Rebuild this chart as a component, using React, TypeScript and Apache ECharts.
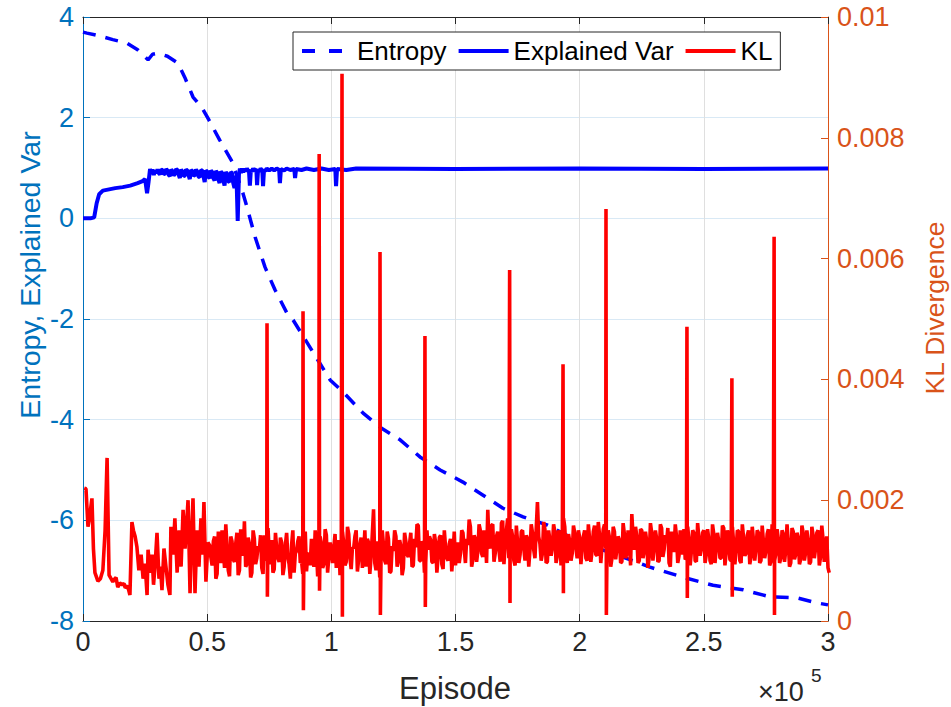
import React, { useEffect, useRef } from 'react';
import * as echarts from 'echarts';

const X_MIN = 0;
const X_MAX = 300000;
const X_INTERVAL = 50000;

// Entropy (left axis) [episode, value]
const ENTROPY: [number, number][] = [
  [0, 3.7], [1600, 3.68], [7000, 3.62], [12000, 3.55], [17700, 3.48], [22000, 3.35],
  [26200, 3.15], [28000, 3.26], [30000, 3.28], [34000, 3.22], [38300, 3.08], [41000, 2.8],
  [44300, 2.41], [48000, 2.19], [50300, 1.99], [55000, 1.56], [60000, 1.13], [64400, 0.5],
  [66000, 0.23], [69300, -0.37], [73300, -0.97], [77300, -1.42], [82100, -1.88], [84600, -2.02],
  [90000, -2.45], [95000, -2.85], [99500, -3.21], [104700, -3.45], [112800, -3.87], [119600, -4.15],
  [127700, -4.4], [135700, -4.74], [143800, -5.0], [153000, -5.24], [161100, -5.5], [169100, -5.76],
  [177200, -5.93], [186800, -6.09], [196100, -6.33], [207000, -6.55], [217400, -6.73], [228300, -6.93],
  [241600, -7.13], [253700, -7.29], [265800, -7.38], [276600, -7.52], [287500, -7.54], [295500, -7.64],
  [300000, -7.68],
];

// Explained variance (left axis) [episode, value]
const EXPLAINED_VAR: [number, number][] = [
  [0, 0], [1000, 0], [3000, 0], [4500, 0.02], [5500, 0.3], [6500, 0.48], [8000, 0.55], [10000, 0.57],
  [13000, 0.6], [16000, 0.62], [19000, 0.65], [22000, 0.7], [24000, 0.74], [25000, 0.78], [25800, 0.5],
  [26400, 0.72], [27000, 0.98], [27500, 0.88], [28000, 0.97], [28500, 0.86], [29000, 0.95], [29500, 0.9],
  [30000, 0.97], [30500, 0.9], [31000, 0.87], [31500, 0.97], [32000, 0.96], [32500, 0.88], [33000, 0.89],
  [33500, 0.98], [34000, 0.95], [34500, 0.86], [35000, 0.84], [35500, 0.97], [36000, 0.94], [36500, 0.85],
  [37000, 0.88], [37500, 0.98], [38000, 0.96], [38500, 0.87], [39000, 0.8], [39500, 0.97], [40000, 0.93],
  [40500, 0.84], [41000, 0.85], [41500, 0.97], [42000, 0.95], [42500, 0.86], [43000, 0.78], [43500, 0.96],
  [44000, 0.94], [44500, 0.84], [45000, 0.86], [45500, 0.97], [46000, 0.93], [46500, 0.83], [47000, 0.82],
  [47500, 0.96], [48000, 0.95], [48500, 0.84], [49000, 0.72], [49500, 0.95], [50000, 0.93], [50500, 0.82],
  [51000, 0.8], [51500, 0.95], [52000, 0.92], [52500, 0.8], [53000, 0.75], [53500, 0.94], [54000, 0.91],
  [54500, 0.78], [55000, 0.7], [55500, 0.93], [56000, 0.9], [56500, 0.76], [57000, 0.65], [57500, 0.92],
  [58000, 0.88], [58500, 0.74], [59000, 0.72], [59500, 0.92], [60000, 0.9], [60500, 0.7], [61000, 0.6],
  [61800, 0.85], [62300, -0.05], [62800, 0.88], [63200, 0.99], [63600, 0.9], [64000, 0.99], [64500, 0.91],
  [65000, 0.99], [65500, 0.93], [66000, 0.99], [66500, 0.94], [66800, 0.97], [67200, 0.65], [67600, 0.97],
  [68000, 0.93], [68500, 0.99], [69000, 0.94], [69800, 0.98], [70100, 0.66], [70500, 0.97], [71000, 0.93],
  [71500, 0.99], [72200, 0.95], [72500, 0.64], [72900, 0.97], [73500, 0.94], [74000, 0.99], [75000, 0.95],
  [76000, 0.99], [77000, 0.95], [78000, 0.99], [79000, 0.96], [79300, 0.7], [79700, 0.98], [81000, 0.95],
  [82000, 0.99], [83500, 0.96], [85100, 0.98], [85400, 0.8], [85800, 0.98], [88000, 0.96], [90000, 0.99],
  [93000, 0.96], [96000, 0.99], [99000, 0.96], [101600, 0.98], [101900, 0.64], [102300, 0.98],
  [106000, 0.96], [110000, 0.99], [150000, 0.98], [200000, 0.99], [250000, 0.98], [300000, 0.99],
];

// KL divergence (right axis): early part [episode, value]
const KL_EARLY: [number, number][] = [
  [500, 0.0022], [1200, 0.00219], [2000, 0.00156], [2600, 0.0017], [3600, 0.00203], [4200, 0.0012],
  [4800, 0.0008], [6000, 0.00066], [7000, 0.0007], [8000, 0.00084], [8900, 0.0015], [9700, 0.0027],
  [10500, 0.00076], [11300, 0.0007], [12000, 0.00065], [12800, 0.0007], [13300, 0.00072], [14000, 0.00056],
  [14800, 0.00063], [15700, 0.0006], [16500, 0.00062], [17000, 0.00055], [18000, 0.00058], [18900, 0.00043],
  [19700, 0.00164], [20300, 0.0015], [21000, 0.0014], [21700, 0.00123], [22500, 0.00084], [23400, 0.0011],
  [24200, 0.0007], [25000, 0.00095], [25800, 0.00043], [26200, 0.00118], [27000, 0.0008], [27800, 0.0011],
  [28400, 0.0006], [29000, 0.0009], [29800, 0.00146], [30600, 0.0007], [31200, 0.0009], [31800, 0.00051],
  [32600, 0.0012], [33400, 0.0009], [34200, 0.0006], [35000, 0.00043], [35400, 0.00156], [36200, 0.0011],
  [37000, 0.0017], [37900, 0.0008], [38700, 0.0015], [39500, 0.0009], [40300, 0.00184], [41100, 0.0012],
  [41700, 0.0016], [42300, 0.002], [43100, 0.00046], [43700, 0.0014], [44300, 0.00203], [45100, 0.00046],
  [45900, 0.0015], [46700, 0.0009], [47500, 0.0017], [48100, 0.0011], [48700, 0.00197], [49500, 0.00065],
  [50300, 0.0013],
];

// KL divergence noise band: readings at 51000, 52000, ... (every 1000 episodes)
const KL_BAND_START = 51000;
const KL_BAND_STEP = 1000;
const KL_BAND: number[] = [
  0.00125, 0.00092, 0.0014, 0.00078, 0.00118, 0.0015, 0.00088, 0.00122, 0.00074, 0.00132,
  0.00098, 0.00146, 0.00084, 0.0012, 0.00165, 0.00094, 0.00128, 0.0008, 0.00136, 0.00104,
  0.00116, 0.00088, 0.00142, 0.001, 0.00112, 0.00134, 0.00086, 0.0012, 0.00098, 0.0013,
  0.0009, 0.00146, 0.00094, 0.00126, 0.0008, 0.00116, 0.0014, 0.001, 0.00124, 0.00082,
  0.00112, 0.00136, 0.0009, 0.0012, 0.00104, 0.00128, 0.00094, 0.00142, 0.00106, 0.00118,
  0.00122, 0.00088, 0.00134, 0.001, 0.00128, 0.00098, 0.00144, 0.00086, 0.0012, 0.0015,
  0.00102, 0.00138, 0.0011, 0.0009, 0.0013, 0.00106, 0.00185, 0.00084, 0.0012, 0.00098,
  0.00126, 0.00094, 0.00136, 0.00082, 0.00116, 0.0014, 0.001, 0.00124, 0.00088, 0.00132,
  0.00106, 0.00146, 0.00092, 0.00122, 0.00158, 0.001, 0.00128, 0.00096, 0.00118, 0.00134,
  0.00096, 0.0013, 0.00106, 0.00142, 0.00086, 0.00122, 0.001, 0.00136, 0.0011, 0.00092,
  0.0013, 0.00112, 0.00146, 0.00096, 0.00126, 0.00156, 0.00102, 0.00136, 0.00116, 0.0015,
  0.00106, 0.00142, 0.00184, 0.0012, 0.0016, 0.00112, 0.00148, 0.00098, 0.00166, 0.00124,
  0.0017, 0.00118, 0.0014, 0.00092, 0.0013, 0.0011, 0.0015, 0.001, 0.00136, 0.00118,
  0.00146, 0.00104, 0.00197, 0.00128, 0.00112, 0.00152, 0.00098, 0.00134, 0.00122, 0.00148,
  0.00108, 0.0014, 0.00118, 0.00156, 0.00096, 0.00132, 0.00112, 0.00146, 0.00104, 0.00138,
  0.0012, 0.0015, 0.001, 0.00136, 0.00116, 0.00158, 0.00108, 0.00142, 0.00124, 0.0016,
  0.00114, 0.00138, 0.00104, 0.00148, 0.0012, 0.00134, 0.00098, 0.00144, 0.00112, 0.0013,
  0.00177, 0.00118, 0.0014, 0.001, 0.0015, 0.00116, 0.00132, 0.00106, 0.00146, 0.00122,
  0.00136, 0.001, 0.00154, 0.00118, 0.0013, 0.00096, 0.00148, 0.00114, 0.0014, 0.00108,
  0.00128, 0.00152, 0.00104, 0.00134, 0.00116, 0.00146, 0.00098, 0.00138, 0.0012, 0.0015,
  0.0011, 0.00136, 0.00094, 0.00144, 0.00122, 0.00132, 0.00104, 0.00154, 0.00114, 0.0014,
  0.001, 0.0013, 0.00118, 0.00148, 0.00096, 0.00138, 0.00112, 0.0015, 0.00106, 0.00134,
  0.0012, 0.00146, 0.001, 0.00132, 0.00116, 0.00152, 0.00098, 0.0014, 0.00112, 0.00136,
  0.00104, 0.00144, 0.00118, 0.0013, 0.00096, 0.00148, 0.0011, 0.00138, 0.00102, 0.00146,
  0.00114, 0.00132, 0.00098, 0.00142, 0.0012, 0.0015, 0.00106, 0.00136, 0.00124, 0.00088,
];

// KL divergence noise band: readings in between, at 51500, 52500, ...
const KL_BAND_MID_START = 51500;
const KL_BAND_MID: number[] = [
  0.00105, 0.00132, 0.0007, 0.00148, 0.00096, 0.00118, 0.0016, 0.00084, 0.0014, 0.00102,
  0.00128, 0.00076, 0.00152, 0.00108, 0.0009, 0.00138, 0.00072, 0.0015, 0.00094, 0.00124,
  0.00142, 0.00078, 0.0011, 0.00154, 0.00094, 0.0008, 0.00146, 0.00104, 0.00138, 0.00076,
  0.00126, 0.00106, 0.0007, 0.0015, 0.00112, 0.00132, 0.00096, 0.00078, 0.00148, 0.0011,
  0.00092, 0.00102, 0.0015, 0.00074, 0.0014, 0.00088, 0.00152, 0.0008, 0.0013, 0.00096,
  0.00144, 0.0011, 0.00076, 0.00148, 0.00092, 0.00156, 0.00104, 0.00122, 0.0014, 0.00082,
  0.00126, 0.00088, 0.0015, 0.00136, 0.00078, 0.00144, 0.00096, 0.00132, 0.00072, 0.0015,
  0.001, 0.00148, 0.0008, 0.00124, 0.0015, 0.0009, 0.00134, 0.00076, 0.00146, 0.0011,
  0.00128, 0.0009, 0.00136, 0.0016, 0.001, 0.00132, 0.0008, 0.0015, 0.0014, 0.00098,
  0.00144, 0.0008, 0.00138, 0.00094, 0.0015, 0.00104, 0.00128, 0.00082, 0.00148, 0.00124,
  0.00096, 0.0015, 0.0012, 0.00136, 0.00168, 0.0009, 0.00142, 0.00098, 0.0016, 0.00112,
  0.0015, 0.00096, 0.0013, 0.00158, 0.00098, 0.0014, 0.00118, 0.00162, 0.00094, 0.0015,
  0.00104, 0.00152, 0.001, 0.00158, 0.00096, 0.00148, 0.0012, 0.00142, 0.0009, 0.0016,
  0.00118, 0.00152, 0.0014, 0.001, 0.00164, 0.00096, 0.0015, 0.00108, 0.0016, 0.00096,
  0.0015, 0.00092, 0.0017, 0.00112, 0.00144, 0.001, 0.00158, 0.0012, 0.0015, 0.00094,
  0.0014, 0.00104, 0.0016, 0.00098, 0.00148, 0.0011, 0.00164, 0.00096, 0.00152, 0.0012,
  0.0015, 0.0009, 0.00156, 0.00102, 0.0014, 0.00096, 0.00162, 0.00104, 0.0015, 0.00092,
  0.0014, 0.00156, 0.00096, 0.00152, 0.00104, 0.00148, 0.00088, 0.00162, 0.001, 0.0015,
  0.00098, 0.0016, 0.00106, 0.00142, 0.00154, 0.0009, 0.0013, 0.0016, 0.00096, 0.0015,
  0.0011, 0.00102, 0.00156, 0.00092, 0.0015, 0.001, 0.00162, 0.00108, 0.00146, 0.00096,
  0.00152, 0.001, 0.0016, 0.00096, 0.00146, 0.00104, 0.00158, 0.00092, 0.0015, 0.00102,
  0.00156, 0.00094, 0.0015, 0.001, 0.0016, 0.00108, 0.00142, 0.00094, 0.00156, 0.001,
  0.0015, 0.00096, 0.00158, 0.00104, 0.00144, 0.00092, 0.0016, 0.001, 0.00152, 0.00096,
  0.0015, 0.00098, 0.0016, 0.0009, 0.00154, 0.00102, 0.00146, 0.00094, 0.00158, 0.001,
  0.0015, 0.00094, 0.00156, 0.00104, 0.00146, 0.00092, 0.00158, 0.00098, 0.0014, 0.0008,
];

// KL spikes: episode, peak value, value of the dip right after
const KL_SPIKE_EP: number[] = [74100, 88600, 95100, 104300, 119600, 137700, 171800, 193300, 210600, 243200, 261300, 278300];
const KL_SPIKE_PEAK: number[] = [0.00493, 0.00513, 0.00773, 0.00906, 0.00611, 0.00472, 0.00581, 0.00425, 0.00682, 0.00487, 0.00402, 0.00636];
const KL_SPIKE_DIP: number[] = [0.0004, 0.00018, 0.0005, 0.00007, 0.0001, 0.00023, 0.0003, 0.00046, 0.0001, 0.00038, 0.0004, 0.0001];

const FONT = "'Liberation Sans', Arial, Helvetica, sans-serif";
const LEFT_COLOR = '#0072BD';
const RIGHT_COLOR = '#D95319';
const AX_COLOR = '#262626';

function buildKL(): [number, number][] {
  const out: [number, number][] = KL_EARLY.map((p) => [p[0], p[1]] as [number, number]);
  KL_BAND.forEach((v, i) => out.push([KL_BAND_START + i * KL_BAND_STEP, v]));
  KL_BAND_MID.forEach((v, i) => out.push([KL_BAND_MID_START + i * KL_BAND_STEP, v]));
  KL_SPIKE_EP.forEach((e, i) => {
    out.push([e, KL_SPIKE_PEAK[i]]);
    out.push([e + 150, KL_SPIKE_DIP[i]]);
  });
  out.sort((a, b) => a[0] - b[0]);
  return out;
}

export default function App() {
  const ref = useRef<HTMLDivElement>(null);
  useEffect(() => {
    if (!ref.current) return;
    const chart = echarts.init(ref.current, undefined, { renderer: 'svg' });
    const xCommon = {
      type: 'value' as const,
      min: X_MIN,
      max: X_MAX,
      interval: X_INTERVAL,
    };
    chart.setOption({
      animation: false,
      backgroundColor: '#ffffff',
      grid: { left: 83, right: 123, top: 17, bottom: 86, containLabel: false, outerBoundsMode: 'none' },
      legend: {
        left: 293,
        top: 32,
        orient: 'horizontal',
        backgroundColor: '#ffffff',
        borderColor: AX_COLOR,
        borderWidth: 1,
        borderRadius: 0,
        padding: [6, 8, 6, 7],
        itemWidth: 50,
        itemHeight: 14,
        itemGap: 10,
        itemStyle: { color: 'rgba(0,0,0,0)', borderColor: 'rgba(0,0,0,0)', borderWidth: 0, opacity: 0 },
        lineStyle: { width: 4 },
        textStyle: { fontFamily: FONT, fontSize: 26, color: '#000' },
        data: [
          { name: 'Entropy', lineStyle: { type: [13, 14], width: 4 } },
          'Explained Var',
          'KL',
        ],
      },
      xAxis: [
        {
          ...xCommon,
          position: 'bottom',
          axisLine: { onZero: false, lineStyle: { color: AX_COLOR, width: 1 } },
          axisTick: { inside: true, length: 7, lineStyle: { color: AX_COLOR } },
          axisLabel: {
            margin: 7,
            fontFamily: FONT,
            fontSize: 27,
            color: AX_COLOR,
            formatter: (v: number) => String(+(v / 100000).toFixed(1)),
          },
          splitLine: { show: true, lineStyle: { color: '#dfdfdf', width: 1 } },
        },
        {
          ...xCommon,
          position: 'top',
          axisLine: { onZero: false, lineStyle: { color: AX_COLOR, width: 1 } },
          axisTick: { inside: true, length: 7, lineStyle: { color: AX_COLOR } },
          axisLabel: { show: false },
          splitLine: { show: false },
        },
      ],
      yAxis: [
        {
          type: 'value',
          position: 'left',
          min: -8,
          max: 4,
          interval: 2,
          axisLine: { show: true, onZero: false, lineStyle: { color: LEFT_COLOR, width: 1 } },
          axisTick: { show: true, inside: true, length: 7, lineStyle: { color: LEFT_COLOR } },
          axisLabel: { margin: 9, fontFamily: FONT, fontSize: 27, color: LEFT_COLOR },
          splitLine: { show: true, lineStyle: { color: '#d9e9f5', width: 1 } },
        },
        {
          type: 'value',
          position: 'right',
          min: 0,
          max: 0.01,
          interval: 0.002,
          axisLine: { show: true, onZero: false, lineStyle: { color: RIGHT_COLOR, width: 1 } },
          axisTick: { show: true, inside: true, length: 7, lineStyle: { color: RIGHT_COLOR } },
          axisLabel: {
            margin: 9,
            fontFamily: FONT,
            fontSize: 27,
            color: RIGHT_COLOR,
            formatter: (v: number) => (v === 0 ? '0' : String(+v.toFixed(3))),
          },
          splitLine: { show: false },
        },
      ],
      graphic: [
        {
          type: 'text',
          x: 30,
          y: 275,
          rotation: Math.PI / 2,
          style: {
            text: 'Entropy, Explained Var',
            fontFamily: FONT,
            fontSize: 28.5,
            fill: LEFT_COLOR,
            align: 'center',
            verticalAlign: 'middle',
          },
        },
        {
          type: 'text',
          x: 935,
          y: 308,
          rotation: Math.PI / 2,
          style: {
            text: 'KL Divergence',
            fontFamily: FONT,
            fontSize: 26.5,
            fill: RIGHT_COLOR,
            align: 'center',
            verticalAlign: 'middle',
          },
        },
        {
          type: 'text',
          x: 455,
          y: 688,
          style: {
            text: 'Episode',
            fontFamily: FONT,
            fontSize: 31,
            fill: AX_COLOR,
            align: 'center',
            verticalAlign: 'middle',
          },
        },
        {
          type: 'text',
          x: 758,
          y: 692,
          style: { text: '×10', fontFamily: FONT, fontSize: 27, fill: AX_COLOR, align: 'left', verticalAlign: 'middle' },
        },
        {
          type: 'text',
          x: 811,
          y: 675,
          style: { text: '5', fontFamily: FONT, fontSize: 19, fill: AX_COLOR, align: 'left', verticalAlign: 'middle' },
        },
      ],
      series: [
        {
          name: 'Entropy',
          type: 'line',
          xAxisIndex: 0,
          yAxisIndex: 0,
          data: ENTROPY,
          symbol: 'none',
          showSymbol: false,
          smooth: false,
          lineStyle: { color: '#0000FF', width: 3.5, type: [13, 10] },
          itemStyle: { color: '#0000FF' },
        },
        {
          name: 'Explained Var',
          type: 'line',
          xAxisIndex: 0,
          yAxisIndex: 0,
          data: EXPLAINED_VAR,
          symbol: 'none',
          showSymbol: false,
          lineStyle: { color: '#0000FF', width: 4 },
          itemStyle: { color: '#0000FF' },
        },
        {
          name: 'KL',
          type: 'line',
          xAxisIndex: 0,
          yAxisIndex: 1,
          data: buildKL(),
          symbol: 'none',
          showSymbol: false,
          lineStyle: { color: '#FF0000', width: 3.6 },
          itemStyle: { color: '#FF0000' },
        },
      ],
    });
    return () => chart.dispose();
  }, []);
  return (
    <div
      ref={ref}
      style={{ position: 'fixed', left: 0, top: 0, width: 951, height: 707, background: '#fff' }}
    />
  );
}
